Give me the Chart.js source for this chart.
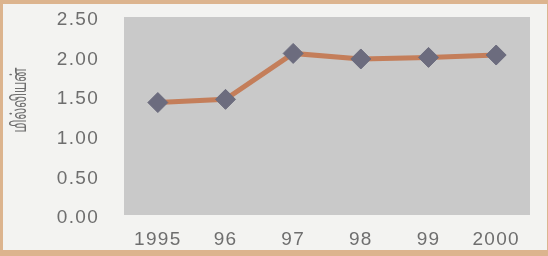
<!DOCTYPE html>
<html>
<head>
<meta charset="utf-8">
<script src="https://cdn.jsdelivr.net/npm/chart.js@4/dist/chart.umd.min.js"></script>
<style>
  html, body { margin: 0; padding: 0; }
  body { width: 548px; height: 256px; background: #dcb48e; }
  #frame {
    position: absolute; left: 3px; top: 4px; width: 544px; height: 246px;
    background: #f3f3f1; overflow: hidden;
  }
  #wrap { position: absolute; left: -3px; top: -4px; width: 548px; height: 256px; }
</style>
</head>
<body>
<div id="frame"><div id="wrap"><canvas id="chart" width="548" height="256"></canvas></div></div>
<script>
// data
const years = ['1995', '96', '97', '98', '99', '2000'];
const millions = [1.42, 1.46, 2.04, 1.97, 1.99, 2.02];
const yTitle = 'மில்லியன்';

const textGray = '#6e6e6e';
const fontFamily = '"Liberation Sans", Arial, sans-serif';

// grey plot panel plus the rotated axis title
const panelPlugin = {
  id: 'panel',
  beforeDraw(chart) {
    const { ctx, chartArea } = chart;
    ctx.save();
    ctx.fillStyle = '#c9c9c9';
    ctx.fillRect(chartArea.left, chartArea.top,
      chartArea.right - chartArea.left, chartArea.bottom - chartArea.top);
    ctx.restore();
    ctx.letterSpacing = '1.3px';
  },
  afterDraw(chart) {
    const ctx = chart.ctx;
    ctx.save();
    ctx.letterSpacing = '0px';
    ctx.font = '20px "Noto Sans Tamil", "Noto Sans", sans-serif';
    const w = ctx.measureText(yTitle).width;
    ctx.translate(22, 100);
    ctx.rotate(-Math.PI / 2);
    ctx.scale(65 / w, 1);
    ctx.fillStyle = textGray;
    ctx.textAlign = 'center';
    ctx.textBaseline = 'middle';
    ctx.fillText(yTitle, 0, 0);
    ctx.restore();
  }
};

new Chart(document.getElementById('chart'), {
  type: 'line',
  data: {
    labels: years,
    datasets: [{
      data: millions,
      borderColor: '#c47e5a',
      borderWidth: 5,
      pointStyle: 'rectRot',
      pointRadius: 10,
      pointBackgroundColor: '#6c6c7e',
      pointBorderColor: '#6c6c7e',
      pointBorderWidth: 1,
      tension: 0
    }]
  },
  options: {
    responsive: false,
    animation: false,
    devicePixelRatio: 1,
    layout: { padding: { top: 17, right: 18, bottom: 0, left: 0 } },
    plugins: {
      legend: { display: false },
      tooltip: { enabled: false }
    },
    scales: {
      x: {
        offset: true,
        grid: { display: false, drawTicks: false },
        border: { display: false },
        ticks: {
          color: textGray,
          padding: 13,
          font: { family: fontFamily, size: 19 },
          maxRotation: 0
        },
        afterFit(scale) { scale.height = 41; }
      },
      y: {
        min: 0,
        max: 2.5,
        // invisible tick marks keep the labels away from the panel
        grid: { drawOnChartArea: false, drawTicks: true, tickLength: 25, color: 'rgba(0,0,0,0)' },
        border: { display: false },
        ticks: {
          stepSize: 0.5,
          color: textGray,
          padding: 0,
          labelOffset: 3,
          font: { family: fontFamily, size: 19 },
          callback: v => v.toFixed(2)
        },
        afterFit(scale) { scale.width = 124; }
      }
    }
  },
  plugins: [panelPlugin]
});
</script>
</body>
</html>
